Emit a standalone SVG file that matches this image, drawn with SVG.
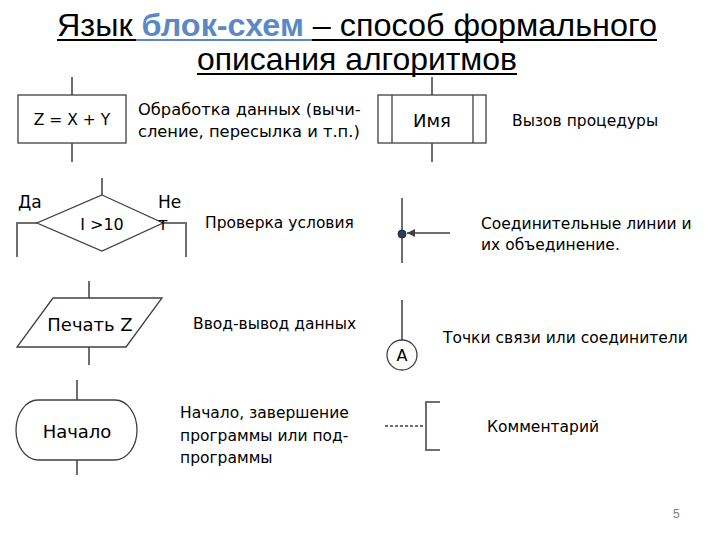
<svg xmlns="http://www.w3.org/2000/svg" width="720" height="540" viewBox="0 0 720 540">
<style>
.t{font-family:"DejaVu Sans","Liberation Sans",sans-serif;font-size:15.5px;fill:#000}
.c{text-anchor:middle}
.big{font-size:18px}
.lbl{font-size:17px}
.title{font-family:"Liberation Sans",sans-serif;font-size:32px;fill:#000}
.shape{fill:#fff;stroke:#404040;stroke-width:1.3}
.ln{stroke:#6e6e6e;stroke-width:2;fill:none}
</style>
<defs>
<marker id="ah" viewBox="0 0 6 6" refX="6" refY="3" markerWidth="4" markerHeight="4" orient="auto"><path d="M0,0L6,3L0,6z" fill="#404040"/></marker>
</defs>
<rect width="720" height="540" fill="#fff"/>
<g id="title">
<text class="title" x="57" y="36" textLength="600" lengthAdjust="spacingAndGlyphs">Язык <tspan font-weight="bold" fill="#5a8ac6">блок-схем </tspan>– способ формального</text>
<line x1="57" y1="40" x2="136" y2="40" stroke="#000" stroke-width="2"/>
<line x1="136" y1="40" x2="312" y2="40" stroke="#5a8ac6" stroke-width="2"/>
<line x1="312" y1="40" x2="657" y2="40" stroke="#000" stroke-width="2"/>
<text class="title" x="197" y="70" textLength="320" lengthAdjust="spacingAndGlyphs">описания алгоритмов</text>
<line x1="197" y1="74" x2="517" y2="74" stroke="#000" stroke-width="2"/>
</g>
<g id="connectors">
<line class="ln" x1="72" y1="77" x2="72" y2="95"/>
<line class="ln" x1="72" y1="143" x2="72" y2="162"/>
<line class="ln" x1="432" y1="77" x2="432" y2="95"/>
<line class="ln" x1="432" y1="143" x2="432" y2="162"/>
<line class="ln" x1="102" y1="178" x2="102" y2="195"/>
<polyline class="ln" points="37,223 17,223 17,257"/>
<polyline class="ln" points="163,223 186,223 186,257"/>
<line class="ln" x1="89" y1="281" x2="89" y2="298"/>
<line class="ln" x1="89" y1="347" x2="89" y2="365"/>
<line class="ln" x1="77" y1="380" x2="77" y2="400"/>
<line class="ln" x1="77" y1="460" x2="77" y2="475"/>
<line class="ln" x1="402" y1="198" x2="402" y2="263"/>
<line class="ln" x1="450" y1="233" x2="407" y2="233" marker-end="url(#ah)"/>
<line class="ln" x1="402" y1="300" x2="402" y2="340"/>
<line class="ln" x1="385" y1="426" x2="426" y2="426" stroke-dasharray="3,2" stroke-width="1.5"/>
<polyline class="ln" points="440,402 426,402 426,450 440,450"/>
</g>
<g id="process">
<rect class="shape" x="18" y="95" width="108" height="48"/>
<text class="t c" x="72" y="125">Z = X + Y</text>
<text class="t" x="138" y="115" style="font-size:16.3px">Обработка данных (вычи-</text>
<text class="t" x="138" y="137" style="font-size:16.3px">сление, пересылка и т.п.)</text>
</g>
<g id="procedure">
<rect class="shape" x="378" y="95" width="108" height="48"/>
<line class="shape" x1="392" y1="95" x2="392" y2="143"/>
<line class="shape" x1="473" y1="95" x2="473" y2="143"/>
<text class="t c big" x="432" y="127">Имя</text>
<text class="t" x="512" y="126">Вызов процедуры</text>
</g>
<g id="decision">
<polygon class="shape" points="102,195 163,223 102,251 37,223"/>
<text class="t c" x="102" y="230" style="font-size:16px">I &gt;10</text>
<text class="t lbl" x="18" y="208">Да</text>
<text class="t lbl" x="158" y="208">Не</text>
<text class="t lbl" x="158" y="230">т</text>
<text class="t" x="205" y="228">Проверка условия</text>
</g>
<g id="junction">
<circle cx="402" cy="234" r="4" fill="#2b3f63" stroke="#1c2a45" stroke-width="1"/>
<text class="t" x="481" y="229">Соединительные линии и</text>
<text class="t" x="481" y="250">их объединение.</text>
</g>
<g id="io">
<polygon class="shape" points="53,298 162,298 126,347 17,347"/>
<text class="t c big" x="90" y="331">Печать Z</text>
<text class="t" x="193" y="329">Ввод-вывод данных</text>
</g>
<g id="connector-point">
<circle class="shape" cx="402" cy="355" r="15"/>
<text class="t c" x="402" y="361" style="font-size:16px">A</text>
<text class="t" x="443" y="343">Точки связи или соединители</text>
</g>
<g id="terminator">
<rect class="shape" x="16" y="400" width="121" height="60" rx="22" ry="30"/>
<text class="t c big" x="77" y="438">Начало</text>
<text class="t" x="180" y="418">Начало, завершение</text>
<text class="t" x="180" y="441">программы или под-</text>
<text class="t" x="180" y="463">программы</text>
</g>
<g id="comment">
<text class="t" x="487" y="432">Комментарий</text>
</g>
<text x="673" y="518" font-family="Liberation Sans,sans-serif" font-size="12" fill="#7f7f7f">5</text>
</svg>
